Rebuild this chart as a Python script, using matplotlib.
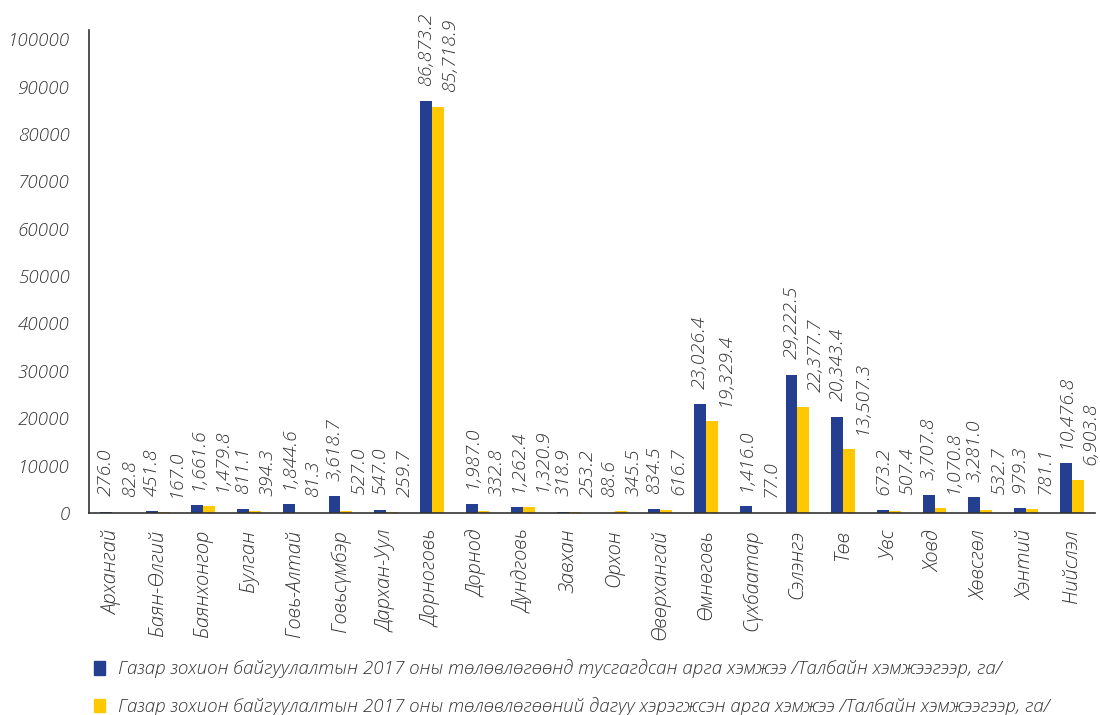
import numpy as np
import matplotlib.pyplot as plt
from matplotlib.patches import Patch

# Aimags and the two series (ha)
aimags = ["Архангай", "Баян-Өлгий", "Баянхонгор", "Булган", "Говь-Алтай", "Говьсүмбэр",
          "Дархан-Уул", "Дорноговь", "Дорнод", "Дундговь", "Завхан", "Орхон",
          "Өвөрхангай", "Өмнөговь", "Сүхбаатар", "Сэлэнгэ", "Төв", "Увс", "Ховд",
          "Хөвсгөл", "Хэнтий", "Нийслэл"]
planned = [276.0, 451.8, 1661.6, 811.1, 1844.6, 3618.7, 547.0, 86873.2, 1987.0, 1262.4,
           318.9, 88.6, 834.5, 23026.4, 1416.0, 29222.5, 20343.4, 673.2, 3707.8, 3281.0,
           979.3, 10476.8]
done = [82.8, 167.0, 1479.8, 394.3, 81.3, 527.0, 259.7, 85718.9, 332.8, 1320.9,
        253.2, 345.5, 616.7, 19329.4, 77.0, 22377.7, 13507.3, 507.4, 1070.8, 532.7,
        781.1, 6903.8]
legend_labels = [
    "Газар зохион байгуулалтын 2017 оны төлөвлөгөөнд тусгагдсан арга хэмжээ /Талбайн хэмжээгээр, га/",
    "Газар зохион байгуулалтын 2017 оны төлөвлөгөөний дагуу хэрэгжсэн арга хэмжээ /Талбайн хэмжээгээр, га/",
]

BLUE = "#243f8f"
YELLOW = "#ffc800"
TXT = "#333333"

plt.rcParams["font.family"] = ["Open Sans", "DejaVu Sans"]

fig = plt.figure(figsize=(11, 7.15), dpi=100)
ax = fig.add_axes([0.081, 0.2825, 0.914, 0.676])

x = np.arange(len(aimags))
w = 0.26
ax.bar(x - w / 2, planned, w, color=BLUE)
ax.bar(x + w / 2, done, w, color=YELLOW)

# value labels
for i in range(len(aimags)):
    ax.annotate(f"{planned[i]:,.1f}", (x[i] - w / 2, planned[i]), xytext=(0, 11),
                textcoords="offset points", rotation=90, ha="center", va="bottom",
                fontsize=14, style="italic", weight="light", color=TXT)
    ax.annotate(f"{done[i]:,.1f}", (x[i] + w / 2, done[i]), xytext=(9, 11),
                textcoords="offset points", rotation=90, ha="center", va="bottom",
                fontsize=14, style="italic", weight="light", color=TXT)

ax.set_xlim(-0.5, len(aimags) - 0.5)
ax.set_ylim(0, 102000)
ax.set_yticks(np.arange(0, 100001, 10000))
ax.set_xticks(x)
ax.set_xticklabels(aimags, rotation=90, style="italic", weight="light", fontsize=14.5, color=TXT)
ax.tick_params(axis="y", length=0, labelsize=13.5, labelcolor=TXT, pad=14)
ax.tick_params(axis="x", length=0, pad=12)
for lab in ax.get_yticklabels():
    lab.set_style("italic")
    lab.set_weight("light")

for s in ["top", "right"]:
    ax.spines[s].set_visible(False)
ax.spines["left"].set_color(TXT)
ax.spines["bottom"].set_color(TXT)
ax.spines["left"].set_linewidth(1.2)
ax.spines["bottom"].set_linewidth(1.2)

handles = [Patch(color=BLUE), Patch(color=YELLOW)]
fig.legend(handles, legend_labels, loc="lower left", bbox_to_anchor=(0.07, -0.025),
           frameon=False, handlelength=0.6, handleheight=0.75, handletextpad=0.7,
           labelspacing=1.0, prop={"family": ["Open Sans", "DejaVu Sans"],
                                   "style": "italic", "weight": "light", "size": 13.5},
           labelcolor=TXT)

fig.savefig("out.png", dpi=100, facecolor="white")
